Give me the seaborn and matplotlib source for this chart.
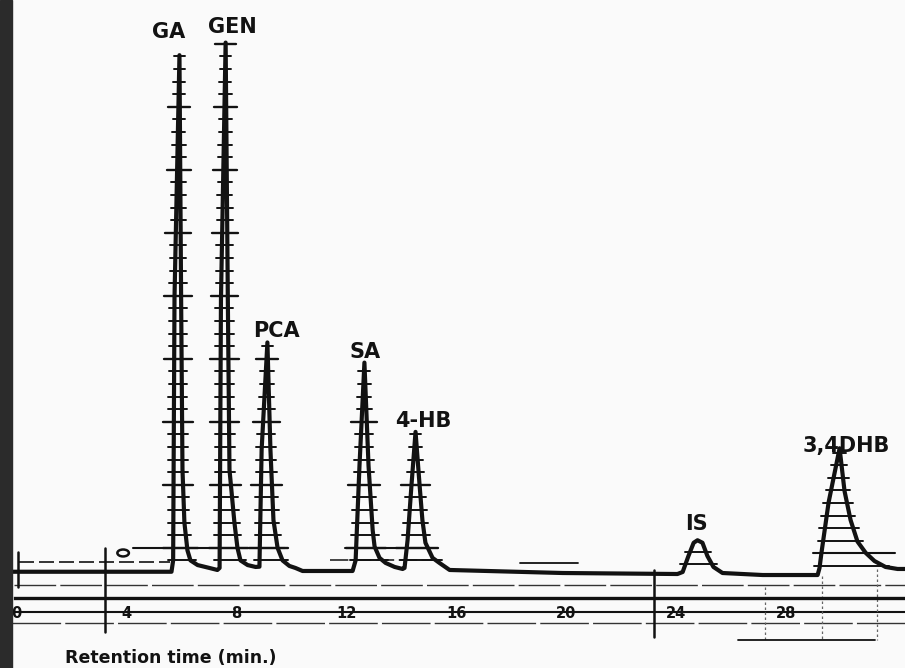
import numpy as np
import pandas as pd
import seaborn as sns
import matplotlib.pyplot as plt
from matplotlib.patches import Ellipse, Rectangle

# Cromatograma: tempo de retenção (min) x sinal do detector (divisões do papel)
time_min = [-0.15, 5.64, 5.70, 5.75, 5.93, 5.99, 6.04, 6.11, 6.22, 6.33, 6.59, 7.02, 7.31,
            7.39, 7.44, 7.61, 7.69, 7.75, 7.93, 8.04, 8.15, 8.41, 8.70,
            8.84, 8.92, 9.13, 9.24, 9.35, 9.50, 9.68, 9.93, 10.15, 10.41, 12.23,
            12.34, 12.48, 12.66, 12.81, 12.96, 13.03, 13.21, 13.43, 13.76, 14.05,
            14.12, 14.23, 14.37, 14.52, 14.67, 14.77, 14.88, 15.14, 15.39, 15.76, 19.87, 24.05,
            24.24, 24.45, 24.64, 24.78, 24.96, 25.14, 25.36, 25.69, 27.15, 29.15,
            29.22, 29.29, 29.55, 29.95, 30.13, 30.35, 30.60, 30.90, 31.22, 31.62, 32.06, 32.45]
signal = [0.10, 0.10, 1.0, 21.9, 41.1, 21.9, 8.2, 4.0, 1.8, 1.0, 0.63, 0.40, 0.24,
          0.40, 21.7, 42.1, 21.7, 8.2, 4.0, 2.0, 1.0, 0.63, 0.48,
          0.50, 9.8, 18.3, 9.8, 4.2, 2.0, 1.0, 0.56, 0.40, 0.16, 0.16,
          1.0, 8.5, 16.7, 8.5, 3.4, 2.1, 1.2, 0.8, 0.48, 0.32,
          0.40, 2.6, 6.9, 11.2, 6.9, 4.2, 2.4, 1.2, 0.8, 0.24, 0.0, -0.08,
          0.08, 1.35, 2.4, 2.6, 2.4, 1.35, 0.48, 0.0, -0.16, -0.16,
          0.40, 1.6, 5.6, 9.9, 6.5, 4.2, 2.5, 1.6, 0.95, 0.48, 0.32, 0.32]

# picos identificados
peak_names = ["GA", "GEN", "PCA", "SA", "4-HB", "IS", "3,4DHB"]
peak_times = [5.93, 7.61, 9.13, 12.66, 14.52, 24.78, 29.95]
label_pos = [(5.55, 42.45), (7.85, 42.9), (9.45, 18.7), (12.7, 17.1),
             (14.8, 11.6), (24.75, 3.4), (30.2, 9.6)]
ladder_start = [1, 1, 1, 1, 1, 0.7, 0.55]  # linhas do papel milimetrado

xticks = [0, 4, 8, 12, 16, 20, 24, 28]
xlabel = "Retention time (min.)"

df = pd.DataFrame({"tempo": time_min, "sinal": signal})
t = np.array(time_min)
s = np.array(signal)

sns.set_style("white")
plt.rcParams["font.family"] = ["DejaVu Sans"]
ink = "#121212"

fig = plt.figure(figsize=(9.05, 6.68), dpi=100)
fig.patch.set_facecolor("#fafafa")
ax = fig.add_axes([0, 0, 1, 1])
ax.set_facecolor("#fafafa")

# pixel -> dados: t = (x - 16.5) / 27.48 ; sinal = (573 - y) / 12.6
ax.set_xlim(-0.600, 32.33)
ax.set_ylim(-7.54, 45.48)

# linhas do papel
ax.plot([0.1, 5.6], [0.87, 0.87], color=ink, lw=1.2, ls=(0, (9, 3)))
ax.plot([-0.1, 32.4], [-0.95, -0.95], color="#333", lw=1.0, ls=(0, (30, 3)))
ax.plot([-0.1, 32.4], [-3.1, -3.1], color=ink, lw=1.5)
ax.plot([-0.15, 32.4], [-3.97, -3.97], color="#333", lw=1.0, ls=(0, (35, 3)))
ax.plot([0.05, 0.05], [1.67, -1.11], color=ink, lw=1.8)
ax.plot([3.22, 3.22], [1.98, -4.68], color=ink, lw=1.8)
ax.plot([23.2, 23.2], [0.24, -5.08], color=ink, lw=1.8)
for xv, y0 in [(27.23, -1.1), (29.3, -0.2), (31.3, 0.3)]:
    ax.plot([xv, xv], [y0, -5.3], color="#666", lw=0.9, ls=(0, (2, 2)))
ax.plot([26.26, 31.24], [-5.32, -5.32], color=ink, lw=1.3)
ax.plot([18.32, 20.43], [0.79, 0.79], color=ink, lw=1.3)
ax.plot([4.25, 9.78], [2.0, 2.0], color=ink, lw=1.5)
ax.plot([11.95, 15.05], [2.0, 2.0], color=ink, lw=1.5)
ax.plot([11.4, 15.5], [1.0, 1.0], color=ink, lw=1.1, ls=(0, (12, 3)))
ax.plot([29.0, 31.96], [1.6, 1.6], color=ink, lw=1.5)
ax.add_patch(Ellipse((3.88, 1.59), width=0.42, height=0.55, fill=False, lw=1.8, color=ink))

# marcas horizontais sobre os picos
for pt, k0 in zip(peak_times, ladder_start):
    i = int(np.argmin(np.abs(t - pt)))
    a = i
    while a > 0 and s[a - 1] < s[a]:
        a -= 1
    b = i
    while b < len(s) - 1 and s[b + 1] < s[b]:
        b += 1
    for k in np.arange(k0, s[i] + 0.01, 1.0):
        xl = np.interp(k, s[a:i + 1], t[a:i + 1])
        xr = np.interp(k, s[i:b + 1][::-1], t[i:b + 1][::-1])
        longo = k0 == 1 and int(round(k)) % 5 == 2
        m = 0.38 if longo else 0.2
        ax.plot([xl - m, xr + m], [k, k], color=ink, lw=1.7 if longo else 1.4)

# traço do cromatograma
sns.lineplot(data=df, x="tempo", y="sinal", sort=False, estimator=None,
             color=ink, lw=3.0, ax=ax)

for nome, (lx, ly) in zip(peak_names, label_pos):
    ax.text(lx, ly, nome, ha="center", va="baseline", fontsize=15,
            fontweight="bold", color=ink)

# eixo do tempo
for sp in ["top", "left", "right"]:
    ax.spines[sp].set_visible(False)
ax.spines["bottom"].set_position(("data", -1.98))
ax.spines["bottom"].set_bounds(-0.05, 32.4)
ax.spines["bottom"].set_linewidth(2.4)
ax.spines["bottom"].set_color(ink)
ax.set_yticks([])
ax.set_xticks(xticks)
ax.set_xticklabels([str(v) for v in xticks], fontweight="bold", fontsize=10.5, color=ink)
ax.tick_params(axis="x", direction="in", length=4, width=2, pad=6, colors=ink)
ax.set_xlabel("")
ax.set_ylabel("")

fig.text(65 / 905, 1 - 663 / 668, xlabel, ha="left", va="baseline",
         fontsize=12.5, fontweight="bold", color=ink)

# borda escura do scan
fig.add_artist(Rectangle((0, 0), 12 / 905, 1, transform=fig.transFigure,
                         color="#2b2b2b", zorder=10))

plt.savefig("out.png", dpi=100, facecolor=fig.get_facecolor())
